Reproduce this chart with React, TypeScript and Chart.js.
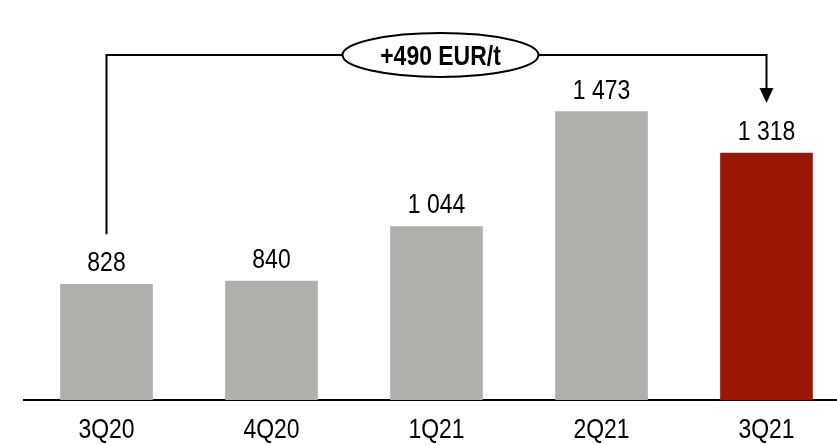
import React, { useEffect, useRef } from "react";
import { Chart, registerables } from "chart.js";

Chart.register(...registerables);

const CATEGORIES = ["3Q20", "4Q20", "1Q21", "2Q21", "3Q21"];
const VALUES = [828, 840, 1044, 1473, 1318];
const BAR_COLORS = ["#AFB0AB", "#AFB0AB", "#AFB0AB", "#AFB0AB", "#9B1604"];
const UNIT = "EUR/t";

const FONT = '"Liberation Sans", Arial, sans-serif';
const NARROW = 0.82;

function fmt(v: number): string {
  if (v >= 1000) {
    return Math.floor(v / 1000) + " " + String(v % 1000).padStart(3, "0");
  }
  return String(v);
}

function narrowText(ctx: CanvasRenderingContext2D, text: string, x: number, y: number) {
  ctx.save();
  ctx.translate(x, y);
  ctx.scale(NARROW, 1);
  ctx.fillText(text, 0, 0);
  ctx.restore();
}

const overlayPlugin = {
  id: "overlay",
  afterDatasetsDraw(chart: any) {
    const { ctx } = chart;
    const meta = chart.getDatasetMeta(0);
    const bars = meta.data;
    const xScale = chart.scales.x;
    ctx.save();
    ctx.fillStyle = "#000";
    ctx.textAlign = "center";
    ctx.textBaseline = "alphabetic";
    ctx.font = `28px ${FONT}`;

    // category labels (from the x scale)
    xScale.ticks.forEach((_t: any, i: number) => {
      const x = xScale.getPixelForTick(i);
      narrowText(ctx, String(xScale.getLabelForValue(i)), x, xScale.top + 38);
    });

    // value labels
    bars.forEach((bar: any, i: number) => {
      narrowText(ctx, fmt(VALUES[i]), bar.x, bar.y - 13);
    });

    // bracket
    const first = bars[0];
    const last = bars[bars.length - 1];
    const lineY = 55;
    const cx = (first.x + last.x) / 2 + 4;
    const rx = 98;
    const ry = 22;
    const startY = first.y - 50;
    const tipY = last.y - 50;
    ctx.strokeStyle = "#000";
    ctx.lineWidth = 2;
    ctx.beginPath();
    ctx.moveTo(first.x, startY);
    ctx.lineTo(first.x, lineY);
    ctx.lineTo(cx - rx, lineY);
    ctx.moveTo(cx + rx, lineY);
    ctx.lineTo(last.x, lineY);
    ctx.lineTo(last.x, tipY - 15);
    ctx.stroke();
    ctx.beginPath();
    ctx.moveTo(last.x - 7, tipY - 15);
    ctx.lineTo(last.x + 7, tipY - 15);
    ctx.lineTo(last.x, tipY);
    ctx.closePath();
    ctx.fill();

    // ellipse
    ctx.beginPath();
    ctx.ellipse(cx, lineY, rx, ry, 0, 0, Math.PI * 2);
    ctx.fillStyle = "#fff";
    ctx.fill();
    ctx.lineWidth = 2;
    ctx.stroke();
    ctx.fillStyle = "#000";
    ctx.font = `bold 28px ${FONT}`;
    const diff = VALUES[VALUES.length - 1] - VALUES[0];
    narrowText(ctx, `${diff >= 0 ? "+" : ""}${diff} ${UNIT}`, cx, lineY + 10);
    ctx.restore();
  },
};

export default function App() {
  const ref = useRef<HTMLCanvasElement | null>(null);

  useEffect(() => {
    if (!ref.current) return;
    const chart = new Chart(ref.current, {
      type: "bar",
      data: {
        labels: CATEGORIES,
        datasets: [
          {
            data: VALUES,
            backgroundColor: BAR_COLORS,
            borderWidth: 0,
            barThickness: 92,
          },
        ],
      },
      options: {
        responsive: false,
        animation: false,
        layout: { padding: { top: 24, left: 24, right: 0, bottom: 0 } },
        plugins: {
          legend: { display: false },
          tooltip: { enabled: false },
        },
        scales: {
          x: {
            grid: { display: false, drawTicks: false },
            border: { display: true, color: "#000", width: 2 },
            ticks: { display: false },
            afterFit: (scale: any) => {
              scale.height = 45;
            },
          },
          y: {
            display: false,
            min: 396,
            max: 1800,
          },
        },
      },
      plugins: [overlayPlugin],
    });
    return () => chart.destroy();
  }, []);

  return (
    <div
      style={{
        position: "fixed",
        left: 0,
        top: 0,
        width: 837,
        height: 445,
        overflow: "hidden",
        background: "#fff",
      }}
    >
      <canvas ref={ref} width={849} height={445} style={{ display: "block" }} />
    </div>
  );
}
